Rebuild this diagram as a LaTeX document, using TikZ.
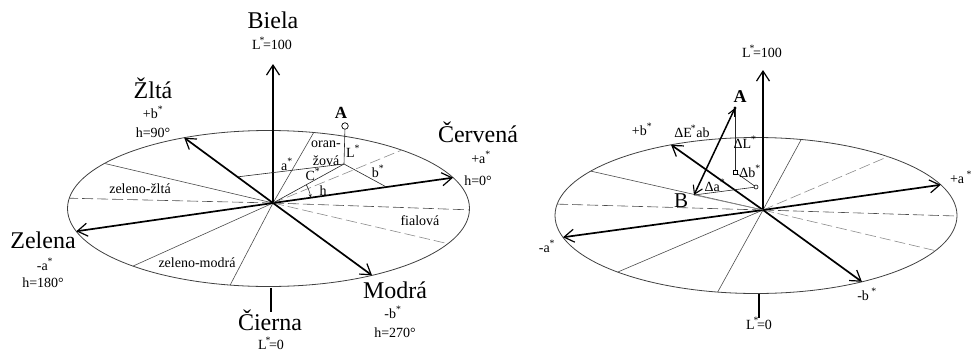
\documentclass[tikz,border=0pt]{standalone}
\usepackage{fontspec}
\setmainfont{Liberation Serif}
\usetikzlibrary{arrows.meta,calc}
\newcommand\sstar{\textsuperscript{*}}
\begin{document}
\begin{tikzpicture}[x=1pt,y=-1pt,
 rim/.style={line width=0.8pt,black!75},
 div/.style={line width=0.6pt,black!70},
 divd/.style={line width=0.6pt,black!70,dash pattern=on 11pt off 4pt},
 divg/.style={line width=0.6pt,black!45,dash pattern=on 11pt off 4pt},
 axis/.style={line width=1.7pt,-{Straight Barb[length=10pt,width=13pt,line width=1.2pt]}},
 big/.style={font=\fontsize{24}{24}\selectfont,anchor=base,inner sep=0pt},
 sm/.style={font=\fontsize{14}{14}\selectfont,anchor=base,inner sep=0pt},
 bld/.style={font=\bfseries\fontsize{17}{17}\selectfont,anchor=base,inner sep=0pt},
 thinl/.style={line width=0.6pt,black!85},
]
\useasboundingbox (0,0) rectangle (973,351);
% ---------------- left diagram ----------------
\coordinate (C1) at (268.5,208.5);
\coordinate (O1) at (273,203);
\draw[rim] (C1) ellipse [x radius=201, y radius=78];
\foreach \n/\ang in {a/-172.4, b/1} {\coordinate (Ld\n) at ($(C1)+(\ang:201 and 78)$); \draw[divd] (O1) -- (Ld\n);}
\foreach \n/\ang in {c/-144.7, d/-77, e/132.4, f/101} {\coordinate (Ld\n) at ($(C1)+(\ang:201 and 78)$); \draw[div] (O1) -- (Ld\n);}
\foreach \n/\ang in {g/-48.5, h/26.8} {\coordinate (Ld\n) at ($(C1)+(\ang:201 and 78)$); \draw[divg] (O1) -- (Ld\n);}
\coordinate (R1) at ($(C1)+(-23.3:201 and 78)$);
\coordinate (G1) at ($(C1)+(163:201 and 78)$);
\coordinate (Y1) at ($(C1)+(-114.8:201 and 78)$);
\coordinate (B1) at ($(C1)+(59:201 and 78)$);
\coordinate (T1) at (273,64);
\draw[axis] (O1) -- (R1);
\draw[axis] (O1) -- (G1);
\draw[axis] (O1) -- (Y1);
\draw[axis] (O1) -- (B1);
\draw[axis] (O1) -- (T1);
\coordinate (Bt1) at (271,288);
\coordinate (Bb1) at (271,312);
\draw[line width=1.4pt] (Bt1) -- (Bb1);
% point A construction
\coordinate (P1) at (344,164);
\coordinate (As1) at ($(O1)!0.4!(Y1)$);
\coordinate (Bs1) at ($(O1)!0.63!(R1)$);
\node[circle,draw,line width=0.7pt,inner sep=0pt,minimum size=6.5pt] (Ac) at (345,126) {};
\draw[thinl] (Ac) -- (P1);
\draw[thinl] (As1) -- (P1);
\draw[thinl] (P1) -- (Bs1);
\draw[thinl] (O1) -- (P1);
\draw[thinl,-{Stealth[length=3.5pt,width=3pt]}] ($(O1)+(-28.8:38)$) arc[start angle=-28.8,end angle=-8,radius=38];
% labels
\node[big] (biela) at (273,28) {Biela};
\node[sm] (l100a) at (272,49) {L\kern-1pt\sstar\kern-2pt=100};
\node[big] (zlta) at (153,98) {Žltá};
\node[sm] (pb) at (153,118) {+b\sstar};
\node[sm] (h90) at (153,137) {h=90°};
\node[bld] (Alab) at (341,118) {A};
\node[big] (cerv) at (478,142) {Červená};
\node[sm] (pa) at (481,163) {+a\sstar};
\node[sm] (h0) at (478,185) {h=0°};
\node[big] (zel) at (43,248) {Zelena};
\node[sm] (ma) at (45,270) {-a\sstar};
\node[sm] (h180) at (43,287) {h=180°};
\node[big] (modr) at (395,298) {Modrá};
\node[sm] (mb) at (393,318) {-b\sstar};
\node[sm] (h270) at (395,337) {h=270°};
\node[big] (cier) at (270,330) {Čierna};
\node[sm] (l0a) at (271,349) {L\kern-1pt\sstar\kern-2pt=0};
\node[sm] (oran) at (326,147) {oran-};
\node[sm] (zova) at (326,165) {žová};
\node[sm] (astar) at (287,170) {a\sstar};
\node[sm] (Lstar) at (353,157) {L\sstar};
\node[sm] (bstar) at (378,177) {b\sstar};
\node[sm] (Cstar) at (313,180) {C\sstar};
\node[sm] (hlab) at (323,195) {h};
\node[sm] (zz) at (140,193) {zeleno-žltá};
\node[sm] (fial) at (420,225) {fialová};
\node[sm] (zm) at (197,267) {zeleno-modrá};
% ---------------- right diagram ----------------
\coordinate (C2) at (756,215.5);
\coordinate (O2) at (763,210);
\draw[rim] (C2) ellipse [x radius=201, y radius=78];
\foreach \n/\ang in {a/-171.6, b/0.4} {\coordinate (Rd\n) at ($(C2)+(\ang:201 and 78)$); \draw[divd] (O2) -- (Rd\n);}
\foreach \n/\ang in {c/-145.3, d/-77, e/133.5, f/101} {\coordinate (Rd\n) at ($(C2)+(\ang:201 and 78)$); \draw[div] (O2) -- (Rd\n);}
\foreach \n/\ang in {g/-49, h/26.8} {\coordinate (Rd\n) at ($(C2)+(\ang:201 and 78)$); \draw[divg] (O2) -- (Rd\n);}
\coordinate (R2) at ($(C2)+(-23.2:201 and 78)$);
\coordinate (G2) at ($(C2)+(163.8:201 and 78)$);
\coordinate (Y2) at ($(C2)+(-115:201 and 78)$);
\coordinate (B2) at ($(C2)+(58.2:201 and 78)$);
\coordinate (T2) at (763,70);
\draw[axis] (O2) -- (R2);
\draw[axis] (O2) -- (G2);
\draw[axis] (O2) -- (Y2);
\draw[axis] (O2) -- (B2);
\draw[axis] (O2) -- (T2);
\coordinate (Bt2) at (759,294);
\coordinate (Bb2) at (759,318);
\draw[line width=1.4pt] (Bt2) -- (Bb2);
% points A, B
\coordinate (PA) at (735,108);
\coordinate (PB) at (694,195);
\coordinate (PQ) at (735,172);
\coordinate (PS) at (756,187);
\draw[line width=0.6pt,black!45] (PB) -- (O2);
\draw[thinl] (PA) -- (PQ);
\draw[thinl] (PQ) -- (PS);
\draw[thinl] (PB) -- (PS);
\draw[line width=1.5pt,{Straight Barb[length=8pt,width=10pt,line width=1.1pt]}-{Straight Barb[length=7pt,width=7pt,line width=1.1pt]}] (PB) -- (PA);
\fill (PA) circle[radius=1.6];
\draw[line width=0.6pt,fill=white] ($(PQ)+(-2,-2)$) rectangle ($(PQ)+(2,2)$);
\draw[line width=0.6pt,fill=white] (PS) circle[radius=2];
% labels
\node[sm] (l100b) at (762,57) {L\kern-1pt\sstar\kern-2pt=100};
\node[bld,font=\bfseries\fontsize{18}{18}\selectfont] (Ab) at (740,102) {A};
\node[font=\fontsize{21}{21}\selectfont,anchor=base,inner sep=0pt] (Bb) at (681,207) {B};
\node[sm] (pbb) at (642,135) {+b\sstar};
\node[sm] (dE) at (692,137) {ΔE\kern-1pt\sstar ab};
\node[sm] (dL) at (745,148) {ΔL\sstar};
\node[sm] (db) at (750,177) {Δb\sstar};
\node[sm] (da) at (715,191) {Δa\sstar};
\node[sm] (pab) at (961,183) {+a\,\sstar};
\node[sm] (mbb) at (867,300) {-b\,\sstar};
\node[sm] (mab) at (547,252) {-a\sstar};
\node[sm] (l0b) at (759,329) {L\kern-1pt\sstar\kern-2pt=0};
\end{tikzpicture}
\end{document}
